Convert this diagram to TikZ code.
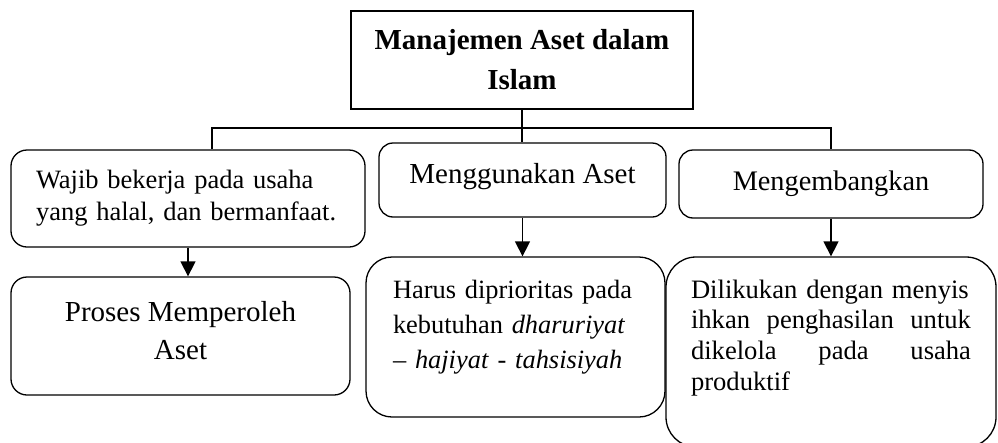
\documentclass[tikz,border=0pt]{standalone}
\usepackage{fontspec}
\setmainfont{Liberation Serif}
\usepackage{tikz}
\usetikzlibrary{arrows.meta, positioning}

\begin{document}
\begin{tikzpicture}[x=1pt,y=-1pt,
    kotak/.style={draw,line width=1.3pt,inner sep=0pt,rounded corners=16pt},
    garis/.style={line width=1.3pt},
    panah/.style={-{Triangle[length=15pt,width=15pt]},line width=1.4pt}]
    \useasboundingbox (0,0) rectangle (998,442);
    \clip (0,0) rectangle (998,442);
    % kotak utama
    \node[draw,line width=1.6pt,inner sep=0pt,minimum width=342pt,minimum height=98pt,align=center,
      font=\bfseries\fontsize{29pt}{40pt}\selectfont] (inti) at (522,60) {Manajemen Aset dalam\\Islam};
    % baris atas
    \node[kotak,minimum width=354pt,minimum height=97pt,text width=304pt,align=left,
      font=\fontsize{26.5pt}{32pt}\selectfont] (wajib) at (188,198.5) {Wajib bekerja pada usaha\\yang halal, dan bermanfaat.};
    \node[kotak,rounded corners=14pt,minimum width=287pt,minimum height=74pt,text depth=14pt,
      font=\fontsize{29pt}{35pt}\selectfont] (guna) at (522.5,180) {Menggunakan Aset};
    \node[kotak,rounded corners=14pt,minimum width=304pt,minimum height=68pt,
      font=\fontsize{28.3pt}{34pt}\selectfont] (kembang) at (831,184) {Mengembangkan};
    % baris bawah
    \node[kotak,minimum width=339pt,minimum height=118pt,align=center,text depth=12pt,
      font=\fontsize{29pt}{38pt}\selectfont] (proses) at (180.5,336) {Proses Memperoleh\\Aset};
    \node[kotak,rounded corners=26pt,minimum width=299pt,minimum height=160pt,text width=245pt,align=left,text depth=96pt,
      font=\fontsize{26.4pt}{35pt}\selectfont] (prioritas) at (515.5,337)
      {Harus diprioritas pada\\kebutuhan \textit{dharuriyat}\\– \textit{hajiyat} - \textit{tahsisiyah}};
    \node[kotak,rounded corners=30pt,minimum width=330pt,minimum height=190pt,text width=280pt,align=left,text depth=126pt,
      font=\fontsize{26.6pt}{30.7pt}\selectfont] (kelola) at (831,352)
      {Dilikukan dengan menyis\\ihkan\hfill penghasilan\hfill untuk\\dikelola\hfill pada\hfill usaha\\produktif};
    % cabang
    \coordinate (busKiri) at (212,128);
    \coordinate (busKanan) at (831,128);
    \draw[garis] (busKiri |- wajib.north) -- (busKiri) -- (busKanan) -- (busKanan |- kembang.north);
    \draw[garis] (inti.south) -- (inti.south |- guna.north);
    % panah turun
    \draw[panah] (wajib.south) -- (wajib.south |- proses.north);
    \draw[panah] (guna.south) -- (guna.south |- prioritas.north);
    \draw[panah] (kembang.south) -- (kembang.south |- kelola.north);
\end{tikzpicture}
\end{document}
